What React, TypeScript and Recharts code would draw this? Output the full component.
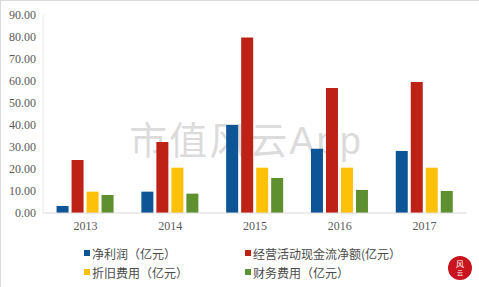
import React from "react";
import {
  BarChart,
  Bar,
  XAxis,
  YAxis,
  Legend,
  Customized,
} from "recharts";

// Years and series values (亿元)
const years = ["2013", "2014", "2015", "2016", "2017"];
const netProfit = [3.2, 9.7, 40.0, 29.2, 28.2];
const operatingCash = [24.1, 32.3, 79.8, 56.8, 59.5];
const depreciation = [9.7, 20.6, 20.6, 20.6, 20.6];
const financeCost = [8.2, 8.8, 15.9, 10.5, 10.0];
const yTicks = [0, 10, 20, 30, 40, 50, 60, 70, 80, 90];

const series = [
  { key: "netProfit", name: "净利润（亿元）", color: "#0E5597" },
  { key: "operatingCash", name: "经营活动现金流净额(亿元）", color: "#BE2115" },
  { key: "depreciation", name: "折旧费用（亿元）", color: "#FDC10A" },
  { key: "financeCost", name: "财务费用（亿元）", color: "#5F9030" },
];

const data = years.map((year, i) => ({
  year,
  netProfit: netProfit[i],
  operatingCash: operatingCash[i],
  depreciation: depreciation[i],
  financeCost: financeCost[i],
}));

const tickStyle = {
  fill: "#595959",
  fontSize: 12,
  fontFamily: "'Liberation Serif', serif",
};

const LegendGrid = () => (
  <div
    style={{
      display: "grid",
      gridTemplateColumns: "161px 200px",
      rowGap: 3,
      paddingLeft: 83,
      fontFamily: "'Noto Sans CJK SC', sans-serif",
      fontSize: 12,
      color: "#4a4a4a",
    }}
  >
    {series.map((s) => (
      <div key={s.key} style={{ display: "flex", alignItems: "center", height: 16 }}>
        <span
          style={{
            display: "inline-block",
            width: 6,
            height: 6,
            background: s.color,
            marginRight: 2,
          }}
        />
        <span>{s.name}</span>
      </div>
    ))}
  </div>
);

// faint watermark behind the bars
const Watermark = () => (
  <text
    x={245}
    y={153}
    textAnchor="middle"
    fill="#c4c4c4"
    fillOpacity={0.6}
    fontSize={38}
    letterSpacing={2}
  >
    <tspan fontFamily="'Noto Sans CJK SC', serif">市值风云</tspan>
    <tspan fontFamily="'Liberation Sans', sans-serif">App</tspan>
  </text>
);

const Logo = () => (
  <g>
    <circle cx={459} cy={267} r={12} fill="#C8141E" />
    <text x={459} y={266} textAnchor="middle" fill="#fff" fontSize={8} fontFamily="'Noto Sans CJK SC'">
      风
    </text>
    <text x={459} y={274} textAnchor="middle" fill="#fff" fontSize={6} fontFamily="'Noto Sans CJK SC'">
      云
    </text>
  </g>
);

export default function App() {
  return (
    <div
      style={{
        position: "absolute",
        left: 0,
        top: 0,
        width: 479,
        height: 287,
        background: "#fff",
        boxSizing: "border-box",
        borderTop: "1px solid #d9d9d9",
        borderLeft: "1px solid #d9d9d9",
      }}
    >
      <BarChart
        width={478}
        height={286}
        data={data}
        margin={{ top: 14, right: 12, left: 0, bottom: 44 }}
        barGap={3}
        barCategoryGap="16%"
      >
        <Customized component={Watermark} />
        <XAxis
          dataKey="year"
          height={30}
          axisLine={{ stroke: "#d9d9d9" }}
          tickLine={false}
          tickSize={0}
          tickMargin={8}
          tick={tickStyle}
        />
        <YAxis
          width={42}
          domain={[0, 90]}
          ticks={yTicks}
          interval={0}
          tickFormatter={(v: number) => v.toFixed(2)}
          axisLine={{ stroke: "#e6e6e6" }}
          tickLine={false}
          tickSize={0}
          tickMargin={7}
          tick={tickStyle}
        />
        {series.map((s) => (
          <Bar
            key={s.key}
            dataKey={s.key}
            name={s.name}
            fill={s.color}
            isAnimationActive={false}
          />
        ))}
        <Legend
          layout="horizontal"
          verticalAlign="middle"
          align="center"
          content={<LegendGrid />}
          wrapperStyle={{ left: 0, top: 244, width: 478 }}
        />
        <Customized component={Logo} />
      </BarChart>
    </div>
  );
}
